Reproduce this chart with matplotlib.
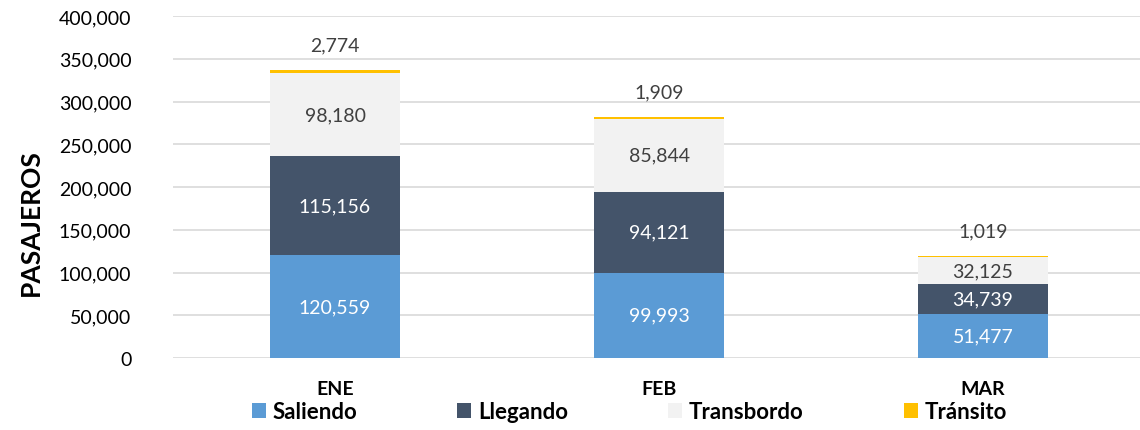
#!/usr/bin/env python3
import matplotlib
matplotlib.use("Agg")
import matplotlib.pyplot as plt
from matplotlib.ticker import FuncFormatter

months = ["ENE", "FEB", "MAR"]
saliendo = [120559, 99993, 51477]
llegando = [115156, 94121, 34739]
transbordo = [98180, 85844, 32125]
transito = [2774, 1909, 1019]

series_names = ["Saliendo", "Llegando", "Transbordo", "Tránsito"]
series_colors = ["#5B9BD5", "#44546A", "#F2F2F2", "#FFC000"]
label_colors = ["white", "white", "#404040", "#404040"]


def main():
    plt.rcParams['font.family'] = ['Lato', 'DejaVu Sans']
    fig = plt.figure(figsize=(11.4, 4.31), dpi=100)
    ax = fig.add_axes([173 / 1140, 1 - 359 / 431, 972 / 1140, 342 / 431])

    series = [saliendo, llegando, transbordo, transito]
    x = list(range(len(months)))
    bottoms = [0] * len(months)
    handles = []
    for k, (vals, name, col) in enumerate(zip(series, series_names, series_colors)):
        bars = ax.bar(x, vals, width=0.4, bottom=bottoms, color=col, label=name, zorder=3)
        handles.append(bars)
        for i, v in enumerate(vals):
            if k < 3:
                ax.text(i, bottoms[i] + v / 2, f"{v:,}", ha='center', va='center',
                        fontsize=14, color=label_colors[k], zorder=4)
            else:
                ax.annotate(f"{v:,}", (i, bottoms[i] + v), xytext=(0, 18),
                            textcoords='offset points', ha='center', va='center',
                            fontsize=14, color=label_colors[k])
        bottoms = [b + v for b, v in zip(bottoms, vals)]

    ax.set_xlim(-0.5, 2.5)
    ax.set_ylim(0, 400000)
    ax.set_yticks(range(0, 400001, 50000))
    ax.yaxis.set_major_formatter(FuncFormatter(lambda v, p: f"{int(v):,}"))
    ax.grid(True, axis='y', color='#D9D9D9', linewidth=1.2, zorder=0)
    for s in ax.spines.values():
        s.set_visible(False)
    ax.tick_params(axis='both', length=0, labelsize=14, colors='black')
    ax.tick_params(axis='y', pad=30)
    ax.set_xticks(x)
    ax.set_xticklabels(months, fontweight='bold', fontsize=14)
    ax.tick_params(axis='x', pad=16)

    fig.text(31 / 1140, 1 - 223 / 431, "PASAJEROS", rotation=90, ha='center',
             va='center', fontsize=19, fontweight='bold')

    fig.legend(handles=handles, labels=series_names, loc='center left',
               bbox_to_anchor=(252 / 1140, 1 - 413 / 431), ncol=4, frameon=False,
               prop={'weight': 'bold', 'size': 16}, handlelength=0.63,
               handleheight=0.63, columnspacing=4.5, handletextpad=0.3,
               borderpad=0, borderaxespad=0)

    fig.savefig("out.png", dpi=100)


if __name__ == "__main__":
    main()
